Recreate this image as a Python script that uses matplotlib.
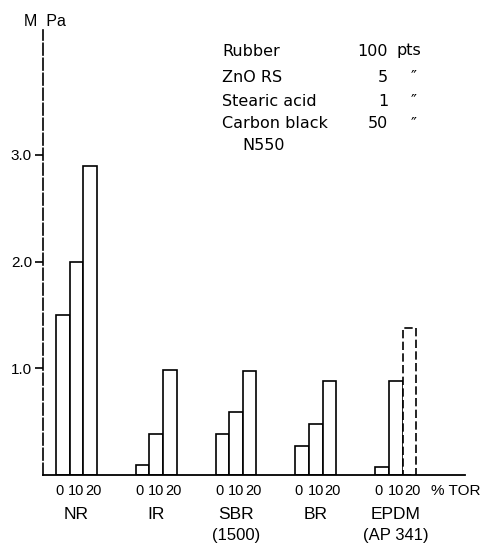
import matplotlib
matplotlib.use("Agg")
import matplotlib.pyplot as plt

plt.rcParams['font.family'] = ['Liberation Sans', 'DejaVu Sans']

# ---- data ----
groups = ["NR", "IR", "SBR", "BR", "EPDM"]
sublabels = ["", "", "(1500)", "", "(AP 341)"]
tor_levels = ["0", "10", "20"]
values = {
    "NR":   [1.50, 2.00, 2.90],
    "IR":   [0.09, 0.38, 0.98],
    "SBR":  [0.38, 0.59, 0.97],
    "BR":   [0.27, 0.47, 0.88],
    "EPDM": [0.07, 0.88, 1.38],
}
yticks = [1.0, 2.0, 3.0]
recipe_names = ["Rubber", "ZnO RS", "Stearic acid", "Carbon black"]
recipe_amounts = ["100", "5", "1", "50"]
recipe_units = ["pts", "\u2033", "\u2033", "\u2033"]

# ---- layout ----
W, H = 496, 553
fig = plt.figure(figsize=(W / 100, H / 100), dpi=100)
ax_l, ax_r, ax_b, ax_t = 43, 465, 474.5, 30
ax = fig.add_axes([ax_l / W, 1 - ax_b / H, (ax_r - ax_l) / W, (ax_b - ax_t) / H])

bar_w = 1.0
group_step = 5.87
label_shift = [-0.25, 0.0, 0.25]
for gi, g in enumerate(groups):
    for j, v in enumerate(values[g]):
        x = gi * group_step + j * bar_w
        dashed = (g == "EPDM" and j == 2)
        ax.bar(x, v, width=bar_w, align="edge", facecolor="white",
               edgecolor="black", linewidth=1.2,
               linestyle=(0, (5, 2)) if dashed else "-")
        ax.text(x + bar_w / 2 + label_shift[j], -0.155, tor_levels[j],
                ha="center", va="center", fontsize=10.5, clip_on=False)
    cx = gi * group_step + 1.5 * bar_w
    ax.text(cx, -0.375, g, ha="center", va="center", fontsize=12.5, clip_on=False)
    if sublabels[gi]:
        ax.text(cx, -0.57, sublabels[gi], ha="center", va="center",
                fontsize=12, clip_on=False)

ax.text(len(groups) * group_step - 1.75, -0.155, "% TOR", ha="left", va="center",
        fontsize=11, clip_on=False)

ax.set_xlim((ax_l - 56) / 13.6, (ax_r - 56) / 13.6)
ax.set_ylim(0, (ax_b - ax_t) / 106.5)
ax.set_xticks([])
ax.set_yticks(yticks)
ax.set_yticklabels([f"{t:.1f}" for t in yticks], fontsize=11)
ax.tick_params(axis="y", direction="out", length=6, width=1.2, pad=2)
for s in ["top", "right"]:
    ax.spines[s].set_visible(False)
ax.spines["left"].set_linewidth(1.2)
ax.spines["left"].set_linestyle((0, (7, 2)))
ax.spines["bottom"].set_linewidth(1.3)

fig.text(24 / W, 1 - 22 / H, "M  Pa", ha="left", va="center", fontsize=11.5)

# recipe block
rfont = dict(fontsize=11.5, family=['DejaVu Sans'])
ys = [51, 77, 101, 124]
for name, amt, unit, y in zip(recipe_names, recipe_amounts, recipe_units, ys):
    fig.text(222 / W, 1 - y / H, name, ha="left", va="center", **rfont)
    fig.text(388 / W, 1 - y / H, amt, ha="right", va="center", **rfont)
    if unit == "pts":
        fig.text(397 / W, 1 - y / H, unit, ha="left", va="center", **rfont)
    else:
        fig.text(414 / W, 1 - y / H, unit, ha="center", va="center", **rfont)
fig.text(242 / W, 1 - 145 / H, "N550", ha="left", va="center", **rfont)

fig.savefig("out.png", dpi=100)
